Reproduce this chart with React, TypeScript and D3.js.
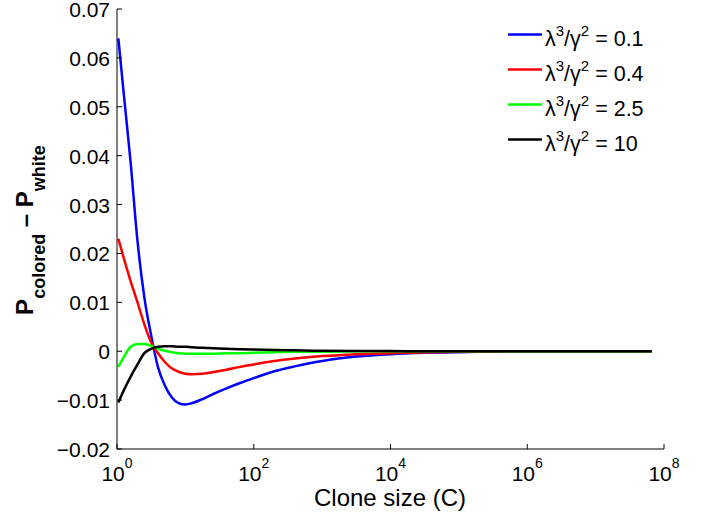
import React from "react";
import * as d3 from "d3";

const logC = [0.02, 0.1, 0.2, 0.3, 0.4, 0.5, 0.6, 0.7, 0.8, 0.9, 1.0, 1.1, 1.25, 1.4, 1.6, 1.8, 2.0, 2.3, 2.6, 3.0, 3.5, 4.0, 4.6, 5.3, 6.0, 7.0, 7.82];

const blue = [0.064, 0.0525, 0.0385, 0.0225, 0.011, 0.0032, -0.0033, -0.007, -0.0094, -0.0106, -0.0109, -0.0106, -0.0098, -0.0088, -0.0076, -0.0065, -0.0055, -0.0041, -0.0031, -0.002, -0.0011, -0.0006, -0.0003, -0.0001, 0, 0, 0];
const red = [0.023, 0.019, 0.0143, 0.01, 0.0055, 0.0018, -0.0004, -0.0022, -0.0035, -0.0042, -0.0046, -0.0047, -0.0046, -0.0043, -0.0038, -0.0032, -0.0027, -0.002, -0.0015, -0.001, -0.0006, -0.0004, -0.0002, -0.0001, 0, 0, 0];
const green = [-0.0032, -0.0012, 0.0009, 0.0015, 0.0015, 0.0011, 0.0005, 0.0001, -0.0002, -0.0004, -0.0005, -0.0005, -0.0005, -0.0005, -0.0004, -0.0004, -0.0003, -0.0002, -0.0001, -0.0001, 0, 0, 0, 0, 0, 0, 0];
const black = [-0.0105, -0.008, -0.0052, -0.0027, -0.0004, 0.0005, 0.0009, 0.001, 0.001, 0.0009, 0.0009, 0.0008, 0.0007, 0.0006, 0.0005, 0.0004, 0.00035, 0.00025, 0.00018, 0.0001, 0.00005, 0.00003, 0, 0, 0, 0, 0];

const seriesLabels = ["0.1", "0.4", "2.5", "10"];
const seriesColors = ["#0000ff", "#ff0000", "#00ff00", "#000000"];
const seriesValues = [blue, red, green, black];

const yTicks = [-0.02, -0.01, 0, 0.01, 0.02, 0.03, 0.04, 0.05, 0.06, 0.07];
const xTickExps = [0, 2, 4, 6, 8];

const FONT = "'Liberation Sans', Arial, Helvetica, sans-serif";

export default function App() {
  const left = 117, right = 664, top = 9, bottom = 449;
  const x = d3.scaleLog().domain([1, 1e8]).range([left, right]);
  const y = d3.scaleLinear().domain([-0.02, 0.07]).range([bottom, top]);

  const line = d3
    .line<[number, number]>()
    .x((d) => x(Math.pow(10, d[0])))
    .y((d) => y(d[1]))
    .curve(d3.curveMonotoneX);

  const fmtY = (v: number) => {
    if (v === 0) return "0";
    const s = Math.abs(v).toFixed(2);
    return (v < 0 ? "\u2212" : "") + s;
  };

  return (
    <svg
      width={721}
      height={514}
      style={{ position: "absolute", left: 0, top: 0, background: "#fff" }}
      fontFamily={FONT}
    >
      <rect x={0} y={0} width={721} height={514} fill="#fff" />
      {seriesValues.map((vals, i) => (
        <path
          key={i}
          d={line(logC.map((l, j) => [l, vals[j]] as [number, number])) || ""}
          fill="none"
          stroke={seriesColors[i]}
          strokeWidth={2.5}
        />
      ))}
      {/* axes */}
      <line x1={left} y1={top} x2={left} y2={bottom} stroke="#000" strokeWidth={1} />
      <line x1={left} y1={bottom} x2={right} y2={bottom} stroke="#000" strokeWidth={1} />
      {yTicks.map((t) => (
        <g key={t}>
          <line x1={left} x2={left + 5} y1={y(t)} y2={y(t)} stroke="#000" />
          <text x={110} y={y(t) + 8} fontSize={21} textAnchor="end" fill="#000">
            {fmtY(t)}
          </text>
        </g>
      ))}
      {xTickExps.map((e) => (
        <g key={e}>
          <line x1={x(Math.pow(10, e))} x2={x(Math.pow(10, e))} y1={bottom} y2={bottom - 5} stroke="#000" />
          <text x={x(Math.pow(10, e))} y={481} fontSize={21} textAnchor="middle" fill="#000">
            <tspan>10</tspan>
            <tspan dy={-13} fontSize={14}>{e}</tspan>
          </text>
        </g>
      ))}
      <text x={390} y={506} fontSize={24} textAnchor="middle" fill="#000">
        Clone size (C)
      </text>
      <text
        transform="translate(33,230) rotate(-90)"
        textAnchor="middle"
        fontWeight="bold"
        fontSize={24}
        fill="#000"
      >
        <tspan>P</tspan>
        <tspan fontSize={18} dy={12}>colored</tspan>
        <tspan dy={-12}>{" \u2013 P"}</tspan>
        <tspan fontSize={18} dy={12}>white</tspan>
      </text>
      {/* legend */}
      {seriesLabels.map((lab, i) => {
        const ly = 34.5 + i * 35;
        return (
          <g key={lab}>
            <line x1={508} x2={542} y1={ly} y2={ly} stroke={seriesColors[i]} strokeWidth={2.5} />
            <text x={545} y={ly + 11} fontSize={21.5} fill="#000">
              <tspan>λ</tspan>
              <tspan fontSize={15} dy={-10}>3</tspan>
              <tspan dy={10}>/γ</tspan>
              <tspan fontSize={15} dy={-10}>2</tspan>
              <tspan dy={10}>{" = " + lab}</tspan>
            </text>
          </g>
        );
      })}
    </svg>
  );
}
